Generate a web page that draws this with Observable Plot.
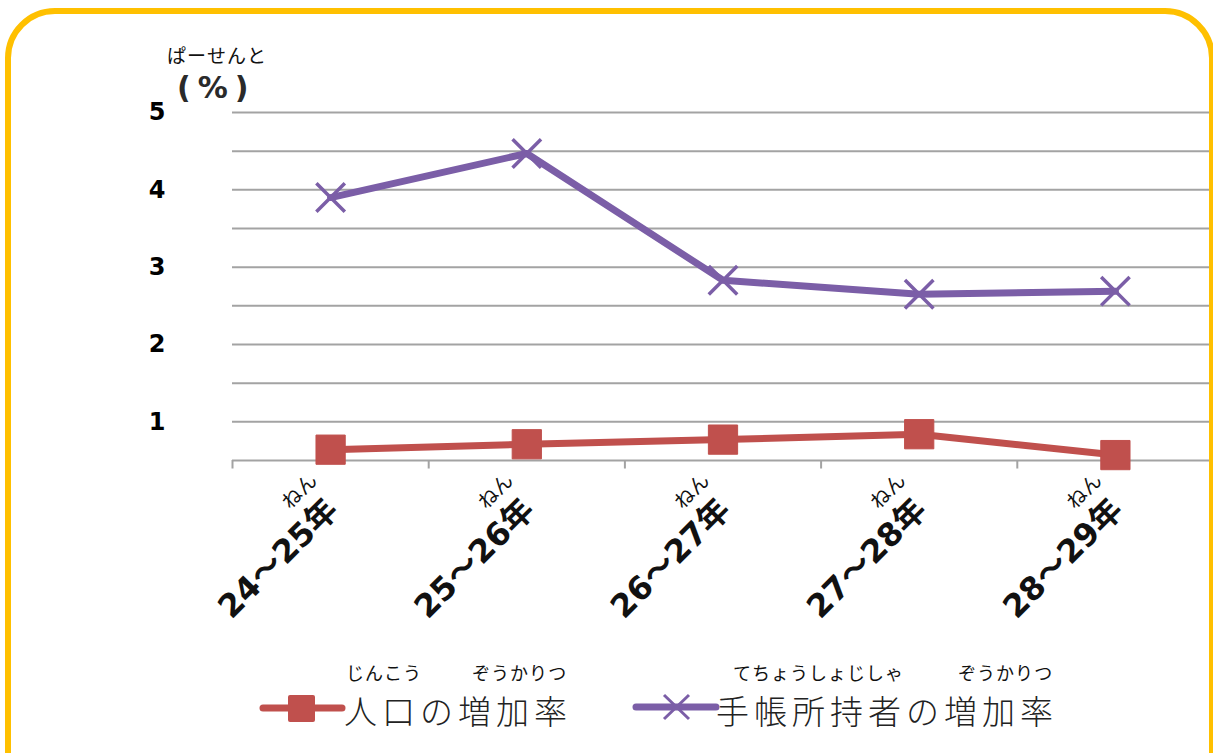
<!DOCTYPE html>
<html>
<head>
<meta charset="utf-8">
<script src="https://cdn.jsdelivr.net/npm/d3@7"></script>
<script src="https://cdn.jsdelivr.net/npm/@observablehq/plot@0.6"></script>
<style>
  html, body { margin: 0; padding: 0; background: #fff; }
  body { width: 1213px; height: 753px; overflow: hidden; position: relative; font-family: "Noto Sans CJK JP", "DejaVu Sans", sans-serif; }
  #frame { position: absolute; left: 5px; top: 8px; width: 1210px; height: 820px; box-sizing: border-box; border: 6px solid #FFC000; border-radius: 50px; z-index: 5; pointer-events: none; }
  #chart { position: absolute; left: 0; top: 0; }
  .abs { position: absolute; white-space: nowrap; color: #111; }
  .leg { font-size: 33px; letter-spacing: 5px; color: #222; font-weight: 300; }
  .ruby { font-size: 18px; letter-spacing: 1px; color: #111; }
</style>
</head>
<body>
<div id="frame"></div>
<div id="chart"></div>
<div class="abs" style="left:167px; top:41px; font-size:19px; letter-spacing:1px;">ぱーせんと</div>
<div class="abs" style="left:177px; top:70px; font-size:30px; font-weight:bold; color:#2a2a2a; letter-spacing:7px; font-family:'DejaVu Sans', sans-serif;">(%)</div>

<div class="abs ruby" style="left:346px; top:659px;">じんこう</div>
<div class="abs ruby" style="left:472px; top:659px;">ぞうかりつ</div>
<div class="abs ruby" style="left:733px; top:659px;">てちょうしょじしゃ</div>
<div class="abs ruby" style="left:958px; top:659px;">ぞうかりつ</div>

<svg class="abs" style="left:255px; top:688px;" width="95" height="40">
  <line x1="8" x2="87" y1="20" y2="20" stroke="#c0504d" stroke-width="7" stroke-linecap="round"/>
  <rect x="33" y="7" width="27" height="27" rx="2" fill="#c0504d"/>
</svg>
<div class="abs leg" style="left:344px; top:686px;">人口の増加率</div>

<svg class="abs" style="left:628px; top:687px;" width="95" height="40">
  <line x1="8" x2="88" y1="20" y2="20" stroke="#7b5ea7" stroke-width="7" stroke-linecap="round"/>
  <path d="M36,8 L61,32 M61,8 L36,32" stroke="#7b5ea7" stroke-width="3"/>
</svg>
<div class="abs leg" style="left:716px; top:686px;">手帳所持者の増加率</div>

<script>
// ---- data ----
const categories = ["24～25年", "25～26年", "26～27年", "27～28年", "28～29年"];
const populationRate = [0.64, 0.71, 0.77, 0.84, 0.57];   // 人口の増加率 (%)
const holderRate = [3.90, 4.47, 2.83, 2.65, 2.69];       // 手帳所持者の増加率 (%)
const yTickValues = [1, 2, 3, 4, 5];
const gridValues = [0.5, 1, 1.5, 2, 2.5, 3, 3.5, 4, 4.5, 5];
const bandEdges = [0, 1, 2, 3, 4];
const rubyYear = "ねん";

const popData = categories.map((c, i) => ({cat: c, idx: i + 0.5, value: populationRate[i]}));
const holderData = categories.map((c, i) => ({cat: c, idx: i + 0.5, value: holderRate[i]}));
const catData = categories.map((c, i) => ({cat: c, idx: i + 0.5, ruby: rubyYear}));

const red = "#c0504d";
const purple = "#7b5ea7";

const chart = Plot.plot({
  width: 1213,
  height: 650,
  marginTop: 112,
  marginBottom: 190,
  marginLeft: 232,
  marginRight: 0,
  x: {domain: [0, 5], axis: null},
  y: {domain: [0.5, 5], axis: null},
  style: {background: "transparent", overflow: "visible"},
  marks: [
    Plot.ruleY(gridValues, {stroke: "#a3a3a3", strokeWidth: 2}),
    Plot.ruleX(bandEdges, {x: d => d, y1: 0.5, y2: 0.39, stroke: "#a3a3a3", strokeWidth: 2}),
    Plot.axisY(yTickValues, {
      tickSize: 0, tickPadding: 67, textAnchor: "end", tickFormat: d => String(d),
      fontSize: 24, fontWeight: "bold", fill: "#000",
      fontFamily: "DejaVu Sans, sans-serif", label: null
    }),
    Plot.line(popData, {x: "idx", y: "value", stroke: red, strokeWidth: 7}),
    Plot.dot(popData, {x: "idx", y: "value", symbol: "square", r: 16.5, fill: red, stroke: red, strokeWidth: 1, strokeLinejoin: "round"}),
    Plot.line(holderData, {x: "idx", y: "value", stroke: purple, strokeWidth: 7}),
    Plot.dot(holderData, {x: "idx", y: "value", symbol: "times", r: 13, stroke: purple, strokeWidth: 3.5}),
    Plot.text(catData, {
      x: "idx", y: () => 0.5, text: "cat", rotate: -45, textAnchor: "end",
      dy: 44, dx: 2, fontSize: 32, fontWeight: "bold", fill: "#111",
      fontFamily: "DejaVu Sans, Noto Sans CJK JP, sans-serif"
    }),
    Plot.text(catData, {
      x: "idx", y: () => 0.5, text: "ruby", rotate: () => -45, textAnchor: "middle",
      dx: -31, dy: 31, fontSize: 20, fill: "#111",
      fontFamily: "Noto Sans CJK JP, sans-serif"
    })
  ]
});
document.getElementById("chart").appendChild(chart);
</script>
</body>
</html>
